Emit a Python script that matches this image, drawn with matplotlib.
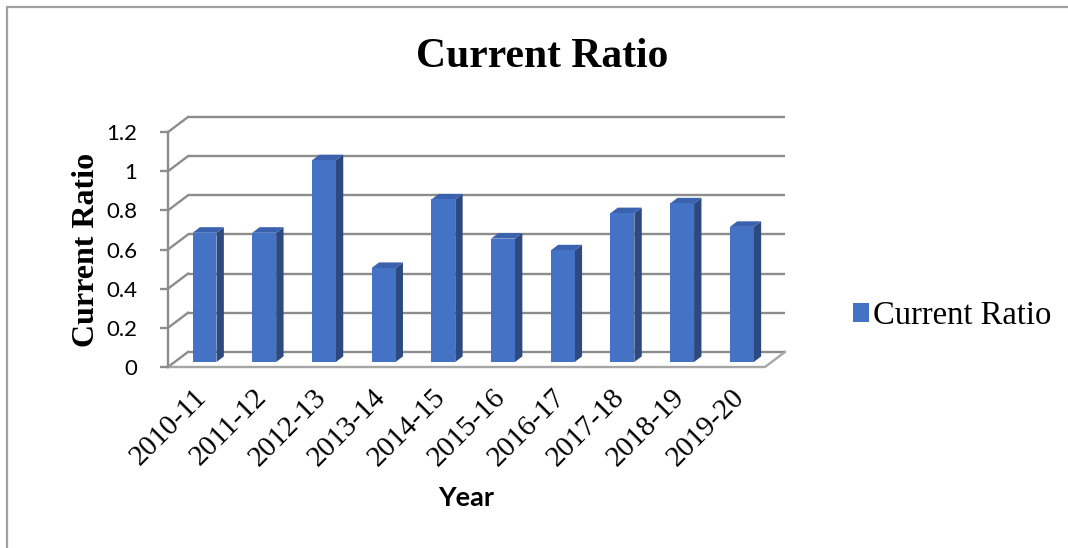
# ---------------------------------------------
# CURRENT RATIO — 3D STYLE COLUMN CHART
# ---------------------------------------------

import matplotlib
matplotlib.use("Agg")
import matplotlib.pyplot as plt
from matplotlib.patches import Polygon, Patch
from matplotlib.lines import Line2D
from matplotlib.transforms import offset_copy

# ---------------------------------------------
# DATA
# ---------------------------------------------

years = ["2010-11", "2011-12", "2012-13", "2013-14", "2014-15",
         "2015-16", "2016-17", "2017-18", "2018-19", "2019-20"]
current_ratio = [0.66, 0.66, 1.03, 0.48, 0.83, 0.63, 0.57, 0.76, 0.81, 0.69]
y_ticks = [0, 0.2, 0.4, 0.6, 0.8, 1.0, 1.2]
y_tick_labels = ["0", "0.2", "0.4", "0.6", "0.8", "1", "1.2"]

# ---------------------------------------------
# STYLE
# ---------------------------------------------

FRONT = "#4472C4"
SIDE = "#2C4A80"
TOP = "#3A62AE"
GRID = "#8C8C8C"

DX, DY = 0.335, 0.077      # depth offset of the back wall (data units)
BAR_W = 0.40               # bar width in category units
BAR_F = 1 / 3              # where the bar front sits in the depth
BAR_D = 0.37               # bar depth as a share of the full depth

W, H = 1068, 548
fig = plt.figure(figsize=(W / 100, H / 100), dpi=100)

n = len(years)
ymax = y_ticks[-1]
left, right = 168 / W, 785 / W
bottom, top = 1 - 367 / H, 1 - 117 / H
ax = fig.add_axes([left, bottom, right - left, top - bottom])
ax.set_xlim(0, n + DX)
ax.set_ylim(0, ymax + DY)

# ---------------------------------------------
# WALLS AND FLOOR
# ---------------------------------------------

for t in y_ticks:
    ax.plot([DX, n + DX], [t + DY, t + DY], color=GRID, lw=1.7,
            solid_capstyle="butt", zorder=1, clip_on=False)
    ax.plot([0, DX], [t, t + DY], color=GRID, lw=1.7, zorder=1, clip_on=False)

ax.plot([0, n, n + DX], [0, 0, DY], color="#A6A6A6", lw=1.7, zorder=1,
        clip_on=False)

# ---------------------------------------------
# BARS
# ---------------------------------------------

for i, v in enumerate(current_ratio):
    x0 = i + 0.5 - BAR_W / 2 + BAR_F * DX
    y0 = BAR_F * DY
    x1 = x0 + BAR_W
    ddx, ddy = BAR_D * DX, BAR_D * DY
    front = [(x0, y0), (x1, y0), (x1, y0 + v), (x0, y0 + v)]
    side = [(x1, y0), (x1 + ddx, y0 + ddy), (x1 + ddx, y0 + v + ddy), (x1, y0 + v)]
    cap = [(x0, y0 + v), (x1, y0 + v), (x1 + ddx, y0 + v + ddy), (x0 + ddx, y0 + v + ddy)]
    ax.add_patch(Polygon(side, closed=True, facecolor=SIDE, edgecolor="none",
                         zorder=3, clip_on=False))
    ax.add_patch(Polygon(cap, closed=True, facecolor=TOP, edgecolor="none",
                         zorder=3, clip_on=False))
    ax.add_patch(Polygon(front, closed=True, facecolor=FRONT, edgecolor="none",
                         zorder=4, clip_on=False))

# ---------------------------------------------
# AXES
# ---------------------------------------------

for s in ["top", "right", "bottom"]:
    ax.spines[s].set_visible(False)
ax.spines["left"].set_bounds(0, ymax)
ax.spines["left"].set_color(GRID)
ax.spines["left"].set_linewidth(1.7)
ax.set_facecolor("none")

ax.set_yticks(y_ticks)
ax.set_yticklabels(y_tick_labels)
ax.tick_params(axis="y", length=6, width=1.7, color=GRID, pad=16)
for lbl in ax.get_yticklabels():
    lbl.set_fontfamily("Lato")
    lbl.set_fontsize(16)

# category labels, slanted under the floor
ax.set_xticks([])
below = offset_copy(ax.transData, fig=fig, x=5, y=-26, units="dots")
for i, name in enumerate(years):
    ax.text(i + 0.5, 0, name, transform=below, rotation=45,
            rotation_mode="anchor", ha="right", va="center",
            family="Liberation Serif", size=21)

# ---------------------------------------------
# TITLES AND LEGEND
# ---------------------------------------------

fig.text(542 / W, 1 - 67 / H, "Current Ratio", ha="center", va="baseline",
         fontfamily="Liberation Serif", fontweight="bold", fontsize=30)
fig.text(86 / W, 1 - 250 / H, "Current Ratio", ha="center", va="center",
         rotation=90, fontfamily="Liberation Serif", fontweight="bold",
         fontsize=23)
fig.text(466 / W, 1 - 506 / H, "Year", ha="center", va="baseline",
         fontfamily="Lato", fontweight="bold", fontsize=19.5)

fig.legend(handles=[Patch(facecolor=FRONT, edgecolor="none")],
           labels=["Current Ratio"], loc="center left",
           bbox_to_anchor=(853 / W, 1 - 316 / H), frameon=False,
           handlelength=0.5, handleheight=0.5, handletextpad=0.1,
           borderpad=0, borderaxespad=0,
           prop={"family": "Liberation Serif", "size": 23.5})

# outer chart border (top and left edges)
fig.add_artist(Line2D([7 / W, 7 / W, 1.0], [0.0, 1 - 7 / H, 1 - 7 / H],
                      transform=fig.transFigure, color="#A0A0A0", lw=1.6))

fig.savefig("out.png", dpi=100)
